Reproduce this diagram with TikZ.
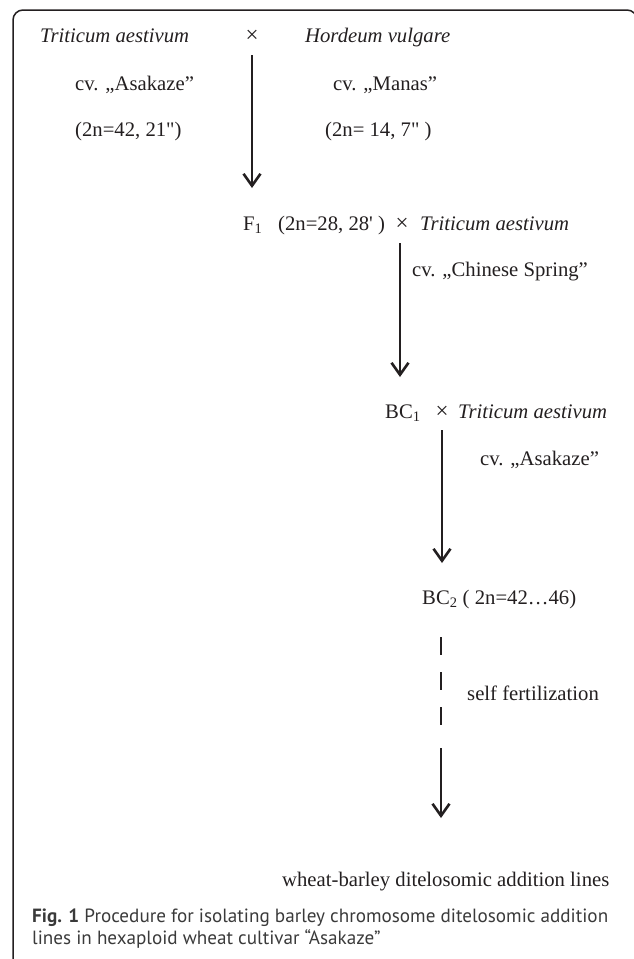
\documentclass[tikz,border=0pt]{standalone}
\usepackage{fontspec}
\usepackage{graphicx}
\setmainfont{Liberation Serif}
\newfontfamily\capfont{PT Sans}
\usetikzlibrary{arrows.meta}
\definecolor{ink}{HTML}{231F20}
\definecolor{capink}{HTML}{3A3A3A}
\begin{document}
\begin{tikzpicture}[x=1pt,y=-1pt,
  lbl/.style={font=\fontsize{20.7}{24}\selectfont, text=ink, inner sep=0pt, anchor=base west},
  crossmark/.style={font=\fontsize{23}{24}\selectfont, text=ink, inner sep=0pt, anchor=base},
  arr/.style={draw=ink, line width=2.6pt, -{Straight Barb[length=12pt,width=17pt,line width=2.6pt]}},
  dashline/.style={draw=ink, line width=2.6pt, dash pattern=on 18pt off 17pt},
]
\useasboundingbox (0,0) rectangle (633,959);
% frame, open at the right and at the bottom
\draw[ink, line width=1.5pt, rounded corners=10pt] (13,975) -- (13,10) -- (637,10) -- (637,975);

% parents
\node[lbl] (p1) at (40,42) {\itshape Triticum aestivum};
\node[crossmark] (x1) at (252,42) {×};
\node[lbl] (p2) at (305,42) {\itshape Hordeum vulgare};
\node[lbl] (c1) at (75,90) {cv. „Asakaze”};
\node[lbl] (c2) at (333,90) {cv. „Manas”};
\node[lbl] (k1) at (75,136) {(2n=42, 21\textquotedbl)};
\node[lbl] (k2) at (325,136) {(2n= 14, 7\textquotedbl\ )};

% F1 generation
\node[lbl] (f1) at (243,230) {F\textsubscript{1}};
\node[lbl] (f1k) at (278,230) {(2n=28, 28\textquotesingle\ )};
\node[crossmark] (x2) at (402,230) {×};
\node[lbl] (p3) at (420,230) {\itshape Triticum aestivum};
\node[lbl] (c3) at (412,276) {cv. „Chinese Spring”};

% BC1 generation
\node[lbl] (b1) at (385,418) {BC\textsubscript{1}};
\node[crossmark] (x3) at (442,418) {×};
\node[lbl] (p4) at (458,418) {\itshape Triticum aestivum};
\node[lbl] (c4) at (480,465) {cv. „Asakaze”};

% BC2 and selfing
\node[lbl] (b2) at (422,604) {BC\textsubscript{2} ( 2n=42…46)};
\node[lbl] (sf) at (467,700) {self fertilization};
\node[lbl] (wb) at (282,886) {wheat-barley ditelosomic addition lines};

% arrow end points
\coordinate (a1s) at (252,55);  \coordinate (a1e) at (252,188);
\coordinate (a2s) at (400,243); \coordinate (a2e) at (400,377);
\coordinate (a3s) at (442,430); \coordinate (a3e) at (442,563);
\coordinate (d1s) at (441,637); \coordinate (d1e) at (441,727);
\coordinate (a4s) at (441,748); \coordinate (a4e) at (441,818);

\draw[arr] (a1s) -- (a1e);
\draw[arr] (a2s) -- (a2e);
\draw[arr] (a3s) -- (a3e);
\draw[dashline] (d1s) -- (d1e);
\draw[arr] (a4s) -- (a4e);

% caption
\node[anchor=base west, inner sep=0pt, text=capink] (cap) at (32,922)
  {\resizebox{576pt}{!}{\capfont\fontsize{18}{21}\selectfont
   \begin{tabular}[t]{@{}l@{}}
   \textbf{Fig. 1} Procedure for isolating barley chromosome ditelosomic addition\\
   lines in hexaploid wheat cultivar “Asakaze”
   \end{tabular}}};
\end{tikzpicture}
\end{document}
